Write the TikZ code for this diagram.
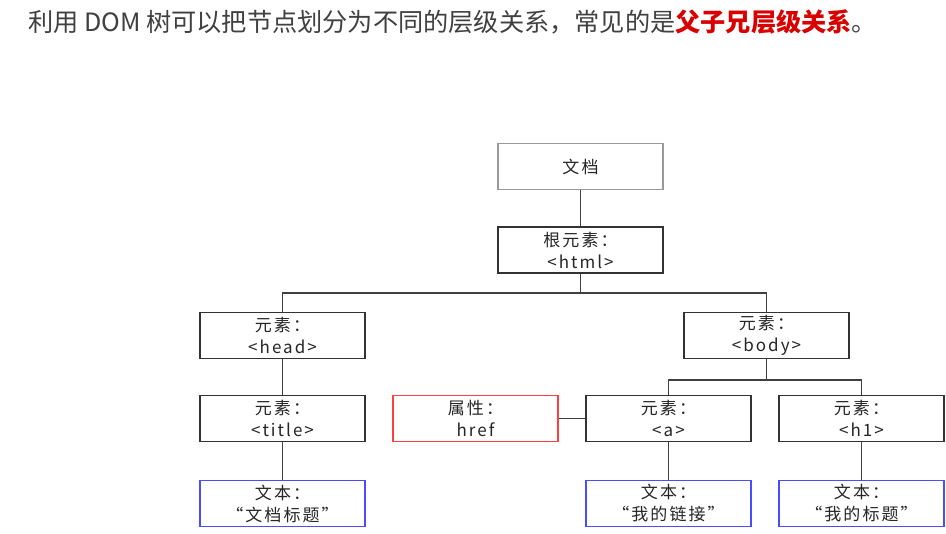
\documentclass[tikz,border=0pt]{standalone}
\usepackage{fontspec}
\setmainfont{Noto Sans CJK SC}
\newfontfamily\lsp[LetterSpace=12]{Noto Sans CJK SC}
\begin{document}
\begin{tikzpicture}[x=1pt,y=-1pt,
  box/.style={draw=black!80,line width=1.6pt,minimum width=165pt,minimum height=46pt,inner sep=0pt,align=center,font=\fontsize{17pt}{22pt}\selectfont\lsp,text=black!85},
  grey/.style={box,draw=black!40},
  redb/.style={box,draw=red!75!white},
  blueb/.style={box,draw=blue!70!white},
  conn/.style={draw=black!75,line width=1.6pt}]
\useasboundingbox (0,0) rectangle (946,534);
\fill[white] (0,0) rectangle (946,534);
\node[anchor=west,font=\fontsize{25.2pt}{28pt}\selectfont,text=black!75,inner sep=0pt] (title) at (28,22) {利用 DOM 树可以把节点划分为不同的层级关系，常见的是\textbf{\textcolor{red!85!black}{父子兄层级关系}}。};
\node[grey] (doc) at (580.5,166.5) {文档};
\node[box] (html) at (580.5,250) {根元素：\\<html>};
\node[box] (head) at (282.5,335.5) {元素：\\<head>};
\node[box] (body) at (766.5,335.5) {元素：\\<body>};
\node[box] (ttl) at (282.5,418.5) {元素：\\<title>};
\node[redb] (href) at (475.5,418.5) {属性：\\href};
\node[box] (a) at (668.5,418.5) {元素：\\<a>};
\node[box] (h1) at (861.5,418.5) {元素：\\<h1>};
\node[blueb] (t1) at (282.5,503.5) {文本：\\“文档标题”};
\node[blueb] (t2) at (668.5,503.5) {文本：\\“我的链接”};
\node[blueb] (t3) at (861.5,503.5) {文本：\\“我的标题”};
\draw[conn] (doc) -- (html);
\draw[conn] (html.south) -- ++(0,19) -| (head.north);
\draw[conn] (html.south) -- ++(0,19) -| (body.north);
\draw[conn] (head) -- (ttl);
\draw[conn] (ttl) -- (t1);
\draw[conn] (body.south) -- ++(0,21) -| (a.north);
\draw[conn] (body.south) -- ++(0,21) -| (h1.north);
\draw[conn] (href) -- (a);
\draw[conn] (a) -- (t2);
\draw[conn] (h1) -- (t3);
\end{tikzpicture}
\end{document}
